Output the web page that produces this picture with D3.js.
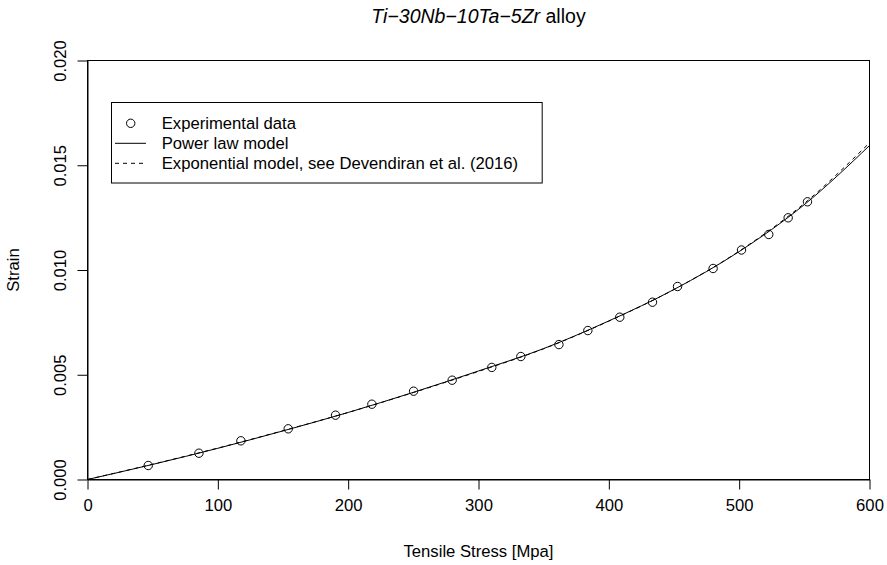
<!DOCTYPE html>
<html>
<head>
<meta charset="utf-8">
<script src="https://cdn.jsdelivr.net/npm/d3@7"></script>
<style>
  html, body { margin: 0; padding: 0; background: #fff; }
  svg { display: block; font-family: "Liberation Sans", Arial, Helvetica, sans-serif; }
</style>
</head>
<body>
<svg id="chart" width="887" height="565"></svg>
<script>
// ---- Data ----
const stressData = [46.6, 85.5, 117.7, 154, 190.3, 218.2, 250.2, 279.8, 310.2, 332.5, 361.7, 383.9, 408.4, 433.5, 452.7, 480.0, 501.8, 522.7, 537.6, 552.4];
const strainData = [0.000668, 0.001255, 0.001847, 0.00242, 0.00307, 0.003594, 0.004215, 0.00474, 0.00535, 0.00587, 0.00644, 0.00711, 0.007747, 0.008463, 0.009212, 0.010072, 0.010955, 0.011695, 0.012492, 0.013255];

const modelStress = [0, 50, 100, 150, 200, 250, 300, 350, 400, 450, 500, 550, 600];
const powerLawStrain = [0, 0.00072, 0.00149, 0.00232, 0.00320, 0.00416, 0.00518, 0.00625, 0.00757, 0.00907, 0.01088, 0.01312, 0.01594];
const exponentialStrain = [0, 0.00073, 0.00150, 0.00233, 0.00320, 0.00415, 0.00516, 0.00624, 0.00756, 0.00907, 0.01090, 0.01318, 0.01607];

const xTicks = [0, 100, 200, 300, 400, 500, 600];
const yTicks = [0, 0.005, 0.010, 0.015, 0.020];
const legendLabels = ["Experimental data", "Power law model", "Exponential model, see Devendiran et al. (2016)"];
const titleItalic = "Ti\u221230Nb\u221210Ta\u22125Zr";
const titleRest = " alloy";
const xLabel = "Tensile Stress [Mpa]";
const yLabel = "Strain";

// ---- Layout ----
const L = 87.5, R = 869.5, T = 60.5, B = 479.5;
const FS = 16.67;
const svg = d3.select("#chart");

const x = d3.scaleLinear().domain([0, 600]).range([L, R]);
const y = d3.scaleLinear().domain([0, 0.02]).range([B, T]);

// clip
svg.append("defs").append("clipPath").attr("id", "clip")
  .append("rect").attr("x", L).attr("y", T).attr("width", R - L).attr("height", B - T);

// axes
const xAxis = svg.append("g").attr("transform", `translate(0,${B})`)
  .call(d3.axisBottom(x).tickValues(xTicks).tickSize(10).tickSizeOuter(0).tickFormat(d3.format("d")));
xAxis.selectAll("text").attr("font-size", FS).attr("fill", "#000")
  .attr("dy", null).attr("y", 31.5);
const yAxis = svg.append("g").attr("transform", `translate(${L},0)`)
  .call(d3.axisLeft(y).tickValues(yTicks).tickSize(10).tickSizeOuter(0).tickFormat(d3.format(".3f")));
yAxis.selectAll("text").attr("font-size", FS).attr("fill", "#000")
  .attr("x", null).attr("dy", null)
  .attr("text-anchor", "middle")
  .attr("transform", "translate(-22,0) rotate(-90)");
svg.selectAll(".domain, .tick line").attr("stroke", "#000").attr("stroke-width", 1);
svg.selectAll("g").attr("font-family", null);

// box
svg.append("rect").attr("x", L).attr("y", T).attr("width", R - L).attr("height", B - T)
  .attr("fill", "none").attr("stroke", "#000").attr("stroke-width", 1);

// curves
const lineGen = (vals) => d3.line()
  .x((d, i) => x(modelStress[i]))
  .y((d) => y(d))
  .curve(d3.curveMonotoneX)(vals);

const plot = svg.append("g").attr("clip-path", "url(#clip)");
plot.append("path").attr("d", lineGen(powerLawStrain))
  .attr("fill", "none").attr("stroke", "#000").attr("stroke-width", 1);
plot.append("path").attr("d", lineGen(exponentialStrain))
  .attr("fill", "none").attr("stroke", "#000").attr("stroke-width", 1).attr("stroke-dasharray", "4,4");

// points
plot.selectAll("circle.pt").data(stressData).enter().append("circle")
  .attr("class", "pt")
  .attr("cx", (d) => x(d))
  .attr("cy", (d, i) => y(strainData[i]))
  .attr("r", 4.2)
  .attr("fill", "none").attr("stroke", "#000").attr("stroke-width", 1);

// title
const title = svg.append("text").attr("x", (L + R) / 2).attr("y", 23)
  .attr("text-anchor", "middle").attr("font-size", 19.5).attr("fill", "#000");
title.append("tspan").attr("font-style", "italic").text(titleItalic);
title.append("tspan").text(titleRest);

// axis titles
svg.append("text").attr("x", (L + R) / 2).attr("y", 557).attr("text-anchor", "middle")
  .attr("font-size", FS).attr("fill", "#000").text(xLabel);
svg.append("text").attr("transform", `translate(19,${(T + B) / 2}) rotate(-90)`)
  .attr("text-anchor", "middle").attr("font-size", FS).attr("fill", "#000").text(yLabel);

// legend
const lg = svg.append("g");
const lgRows = [123.3, 143.3, 163.3];
const texts = lg.selectAll("text").data(legendLabels).enter().append("text")
  .attr("x", 161.7).attr("y", (d, i) => lgRows[i] + 6)
  .attr("font-size", FS).attr("fill", "#000").text((d) => d);
let maxW = 0;
texts.each(function () { maxW = Math.max(maxW, this.getComputedTextLength()); });
lg.insert("rect", "text").attr("x", 111.5).attr("y", 102.5)
  .attr("width", 161.7 + maxW + 24 - 111.5).attr("height", 80.5)
  .attr("fill", "#fff").attr("stroke", "#000").attr("stroke-width", 1);
lg.append("circle").attr("cx", 130.7).attr("cy", lgRows[0]).attr("r", 4.2)
  .attr("fill", "none").attr("stroke", "#000");
lg.append("line").attr("x1", 115).attr("x2", 146).attr("y1", lgRows[1]).attr("y2", lgRows[1])
  .attr("stroke", "#000");
lg.append("line").attr("x1", 115).attr("x2", 146).attr("y1", lgRows[2]).attr("y2", lgRows[2])
  .attr("stroke", "#000").attr("stroke-dasharray", "4,4");
</script>
</body>
</html>
